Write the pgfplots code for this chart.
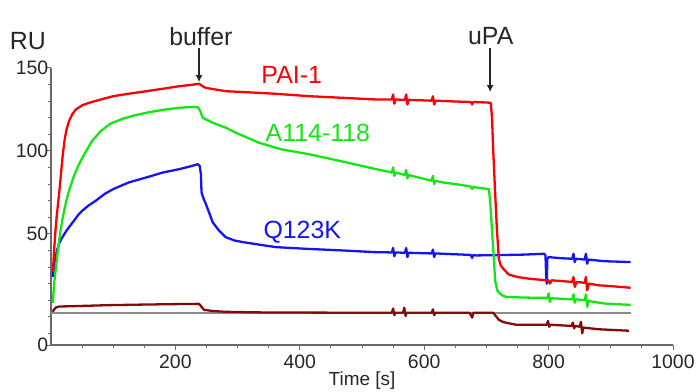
\documentclass[border=0pt]{standalone}
\usepackage{pgfplots}
\pgfplotsset{compat=1.18}
\usepackage{fontspec}
\setmainfont{Liberation Sans}
\usetikzlibrary{arrows.meta}
\definecolor{cred}{RGB}{255,0,0}
\definecolor{cgreen}{RGB}{20,230,20}
\definecolor{cblue}{RGB}{20,20,245}
\definecolor{cbrown}{RGB}{130,12,12}
\definecolor{caxis}{RGB}{105,105,105}
\definecolor{cbase}{RGB}{140,140,140}
\begin{document}
\begin{tikzpicture}
\begin{axis}[
  at={(0,0)}, anchor=south west,
  scale only axis, width=622bp, height=277bp,
  xmin=0, xmax=1000, ymin=-17, ymax=150,
  axis lines*=left,
  axis line style={caxis, line width=1.3pt},
  tick style={caxis, line width=1pt},
  tick align=outside,
  major tick length=4.5bp, minor tick length=2.5bp,
  xtick={200,400,600,800,1000},
  xticklabels={200,400,600,800,1000},
  minor xtick={50,100,150,250,300,350,450,500,550,650,700,750,850,900,950},
  ytick={-17,50,100,150},
  yticklabels={0,50,100,150},
  minor ytick={-10,0,10,20,30,40,60,70,80,90,110,120,130,140},
  ticklabel style={font=\fontsize{19.5}{22}\selectfont, text=black!85},
  xticklabel style={inner sep=0pt, yshift=-5bp},
  yticklabel style={inner sep=0pt, xshift=2bp},
  xlabel={Time [s]},
  xlabel style={at={(axis description cs:0.5,0)}, anchor=north, yshift=-27bp, inner sep=0pt, font=\fontsize{19}{22}\selectfont, text=black!85},
  clip=false,
  every axis plot/.append style={line width=2.3pt, line join=round},
]
% baseline
\addplot[cbase, line width=1.6pt] coordinates {(0,2.4)(932,2.4)};
% brown (reference channel)
\addplot[cbrown] coordinates {
(3,3)(5,4.5)(8,5.6)(13,6.2)(45,6.5)(90,7)(137,7.3)(190,7.6)(238,7.8)(241,6.5)(246,4.2)(260,3.5)(281,3)(346,2.6)(450,2.5)(548,2.5)(550,5)(552,1)(554,2.5)(566,2.5)(568,5.5)(570,0.5)(572,2.5)(612,2.4)(614,4.5)(616,1)(618,2.4)(673,2.4)(675,1)(677,-0.5)(679,2.4)(711,2.4)(715,0.5)(720,-1.8)(726,-3)(732,-3.6)(748,-4.8)(797,-4.8)(799,-2.5)(801,-6)(803,-4.8)(837,-5.5)(839,-3.5)(841,-7)(843,-5.5)(850,-6)(852,-3)(854,-10)(856,-6.5)(880,-7.5)(929,-8.4)
};
% blue Q123K
\addplot[cblue] coordinates {
(3,24)(4,28)(6,33)(8,37)(10,40.5)(13,44)(16,46.5)(20,49)(25,52)(31,55)(38,58.5)(45,62)(52,64.5)(60,67)(72,70)(86,74)(100,77)(125,81)(153,84)(180,87)(206,89)(222,90.5)(236,92)(239,91)(241,86)(242,75)(245,71.5)(249,68)(255,62)(260,57)(270,52)(281,48)(295,46)(309,45)(335,43.5)(362,42)(410,41)(469,40)(520,39)(548,38.8)(550,41.5)(552,36.5)(554,38.8)(569,38.6)(571,41.5)(573,36)(575,38.6)(612,38.2)(614,40.5)(616,36)(618,38.2)(675,37.3)(677,35.5)(679,37.3)(683,37)(720,37.2)(760,37.5)(793,38)(795,37)(796,25)(797,20)(798,35)(800,36)(820,35.3)(838,35)(840,38)(842,33)(844,35)(858,34.5)(860,38)(862,32)(864,34.5)(890,33.5)(932,33)
};
% green A114-118
\addplot[cgreen] coordinates {
(3,8.4)(4,14)(5,20)(8,30)(11,40)(15,51)(19,60)(24,69)(29,76)(36,84)(45,92)(55,99)(66,106)(80,112)(96,116.5)(116,119.5)(135,121.5)(153,123)(180,124.8)(206,126)(225,126.5)(236,126.5)(240,124)(244,120)(260,117)(281,114)(300,110.5)(334,105)(370,101)(415,98)(470,93.5)(523,89)(548,87)(550,90)(552,85)(554,87)(569,85.5)(571,88.5)(573,83.5)(575,85.5)(612,82)(614,85)(616,80)(618,82)(630,81)(660,79.5)(675,78.5)(677,77)(679,78.5)(683,78)(704,77)(706,70)(709,52)(712,35)(714,22)(717,16.5)(719,15)(725,13)(732,12)(760,11.6)(796,11.4)(798,11.4)(800,14)(802,9)(804,11.2)(838,10.5)(840,13.5)(842,8.5)(844,10.5)(858,10)(860,13.5)(862,6)(864,9.5)(890,8)(932,7.2)
};
% red PAI-1
\addplot[cred] coordinates {
(3,27)(5,40)(7,51)(9,60)(11,67)(13,74)(16,86)(19,98)(22,107)(25,113)(29,118)(34,122)(40,125)(50,127.5)(61,129)(80,131)(100,133)(125,134.5)(153,136)(180,137.5)(206,139)(225,139.8)(238,140.5)(244,139)(249,138)(265,137)(281,136)(309,135.5)(360,134.5)(415,133)(470,132)(523,131)(548,131)(550,134)(552,128.5)(554,131)(569,130.8)(571,134)(573,128)(575,130.8)(612,130.3)(614,133)(616,128)(618,130.3)(650,129.8)(675,129.5)(677,128)(679,129.5)(700,129.2)(707,129)(709,120)(711,100)(714,75)(717,52)(720,35)(723,31)(727,29)(736,25.5)(750,24)(768,23)(796,22)(800,22)(802,20)(805,22)(838,21)(840,24)(842,18)(845,21)(858,20.5)(860,24)(862,16)(865,20)(880,19)(900,18.5)(932,17.5)
};
% annotations
\node[font=\fontsize{25}{28}\selectfont, text=black!85] at (axis cs:-37,166) {RU};
\node[font=\fontsize{25}{28}\selectfont, text=black!85] at (axis cs:241,169) {buffer};
\node[font=\fontsize{25}{28}\selectfont, text=black!85] at (axis cs:707,169) {uPA};
\draw[black!85, line width=1.3pt, -{Latex[length=7bp,width=7bp]}] (axis cs:238,162) -- (axis cs:238,141.5);
\draw[black!85, line width=1.3pt, -{Latex[length=7bp,width=7bp]}] (axis cs:706,162) -- (axis cs:706,135.5);
\node[font=\fontsize{25}{28}\selectfont, text=cred] at (axis cs:387,146) {PAI-1};
\node[font=\fontsize{25}{28}\selectfont, text=cgreen] at (axis cs:429,111) {A114-118};
\node[font=\fontsize{25}{28}\selectfont, text=cblue] at (axis cs:404,51) {Q123K};
\end{axis}
\pgfresetboundingbox
\path[use as bounding box] (-51bp,-47bp) rectangle (645bp,345bp);
\end{tikzpicture}
\end{document}
